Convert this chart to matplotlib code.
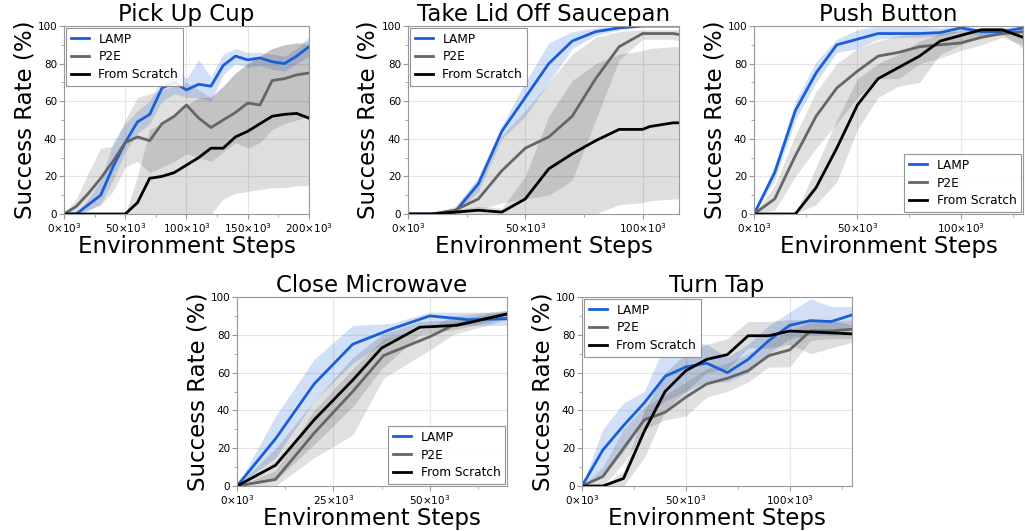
import numpy as np
import matplotlib
matplotlib.use("Agg")
import matplotlib.pyplot as plt
from matplotlib.ticker import MultipleLocator, FuncFormatter

# ---------------- data (x in thousands of steps, y in %) ----------------
# Pick Up Cup
cup_x = [0,10,20,30,40,50,60,70,80,90,100,110,120,130,140,150,160,170,180,190,200]
cup_lamp = [0,0,5,10,25,38,49,53,67,70,66,69,68,79,84,82,83,81,80,84,89]
cup_lamp_lo = [0,0,2,5,18,33,43,48,60,64,62,62,60,74,80,78,79,77,76,80,84]
cup_lamp_hi = [0,0,8,18,38,48,55,60,72,78,72,82,73,85,88,86,86,85,84,88,94]
cup_p2e = [0,4,11,19,28,38,41,39,48,52,58,51,46,50,54,59,58,71,72,74,75]
cup_p2e_lo = [0,0,2,5,12,25,28,22,25,28,32,30,28,33,38,35,38,45,48,50,52]
cup_p2e_hi = [0,8,22,35,36,50,62,64,66,68,70,66,62,68,75,80,84,88,90,91,92]
cup_scr = [0,0,0,0,0,0,6,19,20,22,26,30,35,35,41,44,48,52,53,53.5,51]
cup_scr_lo = [0,0,0,0,0,0,0,0,0,0,0,0,0,8,11,12,13,14,14,15,15]
cup_scr_hi = [0,0,0,0,0,0,20,45,48,52,58,62,62,68,75,80,84,88,90,91,90]

# Take Lid Off Saucepan
lid_x = [0,10,20,30,40,50,60,70,80,90,100,103,113,115.5]
lid_lamp = [0,0,1,16,44,62,80,92,97,99,100,100,100,100]
lid_lamp_lo = [0,0,0,12,40,52,70,88,95,98,99.5,99.5,99.5,99.5]
lid_lamp_hi = [0,0,3,20,47,70,91,97,99,100,100,100,100,100]
lid_p2e = [0,0,2,8,23,35,41,52,72,89,96,96,96,95.5]
lid_p2e_lo = [0,0,0,2,6,8,10,18,50,82,93,93,93,92]
lid_p2e_hi = [0,0,4,18,42,55,70,85,94,97,98,98,98,98]
lid_scr = [0,0,1,2,1,8,24,32,39,45,45,46.5,48.5,48.5]
lid_scr_lo = [0,0,0,0,0,0,0,0,0,5,6,7,8,8]
lid_scr_hi = [0,0,2,4,3,20,52,71,80,85,87,88,89,89]

# Push Button
btn_x = [0,10,20,30,40,50,60,70,80,90,100,110,120,130]
btn_lamp = [0,22,55,75,90,93,96,96,96,96.5,99,97,97,99]
btn_lamp_lo = [0,18,50,70,86,88,93,94,94,95,97,95,95,97]
btn_lamp_hi = [0,26,60,81,93,98,100,100,100,99,100,99,99,100]
btn_p2e = [0,8,31,52,67,76,84,86,89,90,91,94,96,97]
btn_p2e_lo = [0,2,20,35,48,62,72,72,80,83,87,90,94,90]
btn_p2e_hi = [0,15,42,65,80,88,92,95,96,97,97,98,98,99]
btn_scr = [0,0,0,14,35,58,72,78,84,92,95,98,98,94]
btn_scr_lo = [0,0,0,5,17,45,62,68,70,85,90,95,96,88]
btn_scr_hi = [0,0,0,25,50,72,80,85,92,96,98,99,99,97]

# Close Microwave
mw_lamp_x = [0,10,20,30,40,50,60,70]
mw_lamp = [0,25,54,75,83,90,88,88.5]
mw_lamp_lo = [0,15,45,65,78,85,85,85]
mw_lamp_hi = [0,37,67,85,86,92,92,92]
mw_p2e_x = [0,10,20,30,38,50,56,70]
mw_p2e = [0,3.5,28,50,69,79,85,91]
mw_p2e_lo = [0,0,15,27,57,72,80,88]
mw_p2e_hi = [0,8,40,62,78,84,90,93]
mw_scr_x = [0,10,20,30,37.5,47.4,57,70]
mw_scr = [0,11,35,56,73,84,85,91]
mw_scr_lo = [0,3,22,42,62,80,83,89]
mw_scr_hi = [0,20,45,68,80,87,88,93]

# Turn Tap
tap_x = [0,10,20,30,40,50,60,70,80,90,100,110,120,130]
tap_lamp = [0,19,32,44,58,63,65,60,67,77,85,87.5,87,90.5]
tap_lamp_lo = [0,5,18,35,45,50,55,55,60,70,78,80,80,85]
tap_lamp_hi = [0,30,44,50,75,77,75,68,75,85,92,99,95,95]
tap_p2e = [0,5,20,35,39,47,54,57,61,69,72,82,82,83]
tap_p2e_lo = [0,0,12,30,35,37,47,50,55,63,63,77,78,78]
tap_p2e_hi = [0,10,30,42,48,55,62,65,70,77,82,87,87,88]
tap_scr = [0,0,4,29,50,61,67,69.5,79.5,79.5,82,81.5,81,80.5]
tap_scr_lo = [0,0,0,15,40,50,60,62,73,73,75,70,73,76]
tap_scr_hi = [0,0,8,40,60,70,75,78,87,87,88,88,88,85]

labels = ["LAMP", "P2E", "From Scratch"]
colors = ["#1a5fd8", "#666666", "#000000"]
band_alpha = [0.2, 0.2, 0.13]

panels = [
    dict(title="Pick Up Cup", xmax=200, major=50, minor=25, loc="upper left",
         series=[(cup_x, cup_lamp, cup_lamp_lo, cup_lamp_hi),
                 (cup_x, cup_p2e, cup_p2e_lo, cup_p2e_hi),
                 (cup_x, cup_scr, cup_scr_lo, cup_scr_hi)],
         rect=[0.0624, 0.597, 0.239, 0.354]),
    dict(title="Take Lid Off Saucepan", xmax=115.5, major=50, minor=25, loc="upper left",
         series=[(lid_x, lid_lamp, lid_lamp_lo, lid_lamp_hi),
                 (lid_x, lid_p2e, lid_p2e_lo, lid_p2e_hi),
                 (lid_x, lid_scr, lid_scr_lo, lid_scr_hi)],
         rect=[0.398, 0.597, 0.2644, 0.354]),
    dict(title="Push Button", xmax=130, major=50, minor=25, loc="lower right",
         series=[(btn_x, btn_lamp, btn_lamp_lo, btn_lamp_hi),
                 (btn_x, btn_p2e, btn_p2e_lo, btn_p2e_hi),
                 (btn_x, btn_scr, btn_scr_lo, btn_scr_hi)],
         rect=[0.7356, 0.597, 0.2624, 0.354]),
    dict(title="Close Microwave", xmax=70, major=25, minor=12.5, loc="lower right",
         series=[(mw_lamp_x, mw_lamp, mw_lamp_lo, mw_lamp_hi),
                 (mw_p2e_x, mw_p2e, mw_p2e_lo, mw_p2e_hi),
                 (mw_scr_x, mw_scr, mw_scr_lo, mw_scr_hi)],
         rect=[0.2312, 0.0847, 0.2634, 0.356]),
    dict(title="Turn Tap", xmax=130, major=50, minor=25, loc="upper left",
         series=[(tap_x, tap_lamp, tap_lamp_lo, tap_lamp_hi),
                 (tap_x, tap_p2e, tap_p2e_lo, tap_p2e_hi),
                 (tap_x, tap_scr, tap_scr_lo, tap_scr_hi)],
         rect=[0.5678, 0.0847, 0.2634, 0.356]),
]

fmt = FuncFormatter(lambda v, p: r"$\mathdefault{%d{\times}10^{3}}$" % int(round(v)))

fig = plt.figure(figsize=(10.25, 5.31), dpi=100)
for pn in panels:
    ax = fig.add_axes(pn["rect"])
    for (x, m, lo, hi), lab, c, a in zip(pn["series"], labels, colors, band_alpha):
        ax.fill_between(x, lo, hi, color=c, alpha=a, linewidth=0)
    for (x, m, lo, hi), lab, c in zip(pn["series"], labels, colors):
        ax.plot(x, m, color=c, lw=2.0, label=lab)
    ax.set_xlim(0, pn["xmax"])
    ax.set_ylim(0, 100)
    ax.xaxis.set_major_locator(MultipleLocator(pn["major"]))
    ax.xaxis.set_minor_locator(MultipleLocator(pn["minor"]))
    ax.yaxis.set_major_locator(MultipleLocator(20))
    ax.yaxis.set_minor_locator(MultipleLocator(10))
    ax.xaxis.set_major_formatter(fmt)
    ax.grid(True, which="major", color="#e6e6e6", lw=0.8)
    ax.set_axisbelow(True)
    for s in ax.spines.values():
        s.set_color("#999999")
    ax.tick_params(which="both", colors="#999999", labelcolor="black", labelsize=7.5)
    ax.tick_params(which="major", length=3.5, width=0.8, pad=1.5)
    ax.tick_params(which="minor", length=2, width=0.6)
    ax.set_title(pn["title"], fontsize=16.5, pad=3)
    ax.set_xlabel("Environment Steps", fontsize=16.5, labelpad=0)
    ax.set_ylabel("Success Rate (%)", fontsize=16.5, labelpad=1)
    leg = ax.legend(loc=pn["loc"], fontsize=8.7, fancybox=False, framealpha=0.9,
                    edgecolor="#888888", borderaxespad=0.15, handlelength=1.5,
                    labelspacing=0.4)
    leg.get_frame().set_linewidth(0.8)

fig.savefig("out.png", dpi=100)
